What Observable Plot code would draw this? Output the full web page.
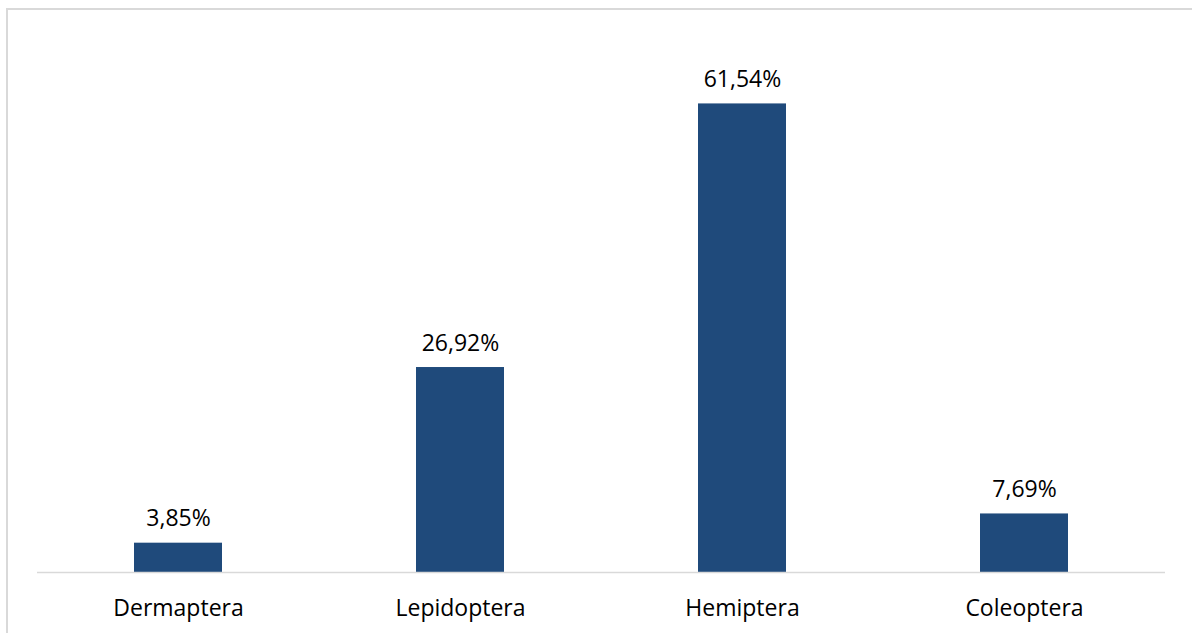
<!DOCTYPE html>
<html>
<head>
<meta charset="utf-8">
<script src="https://cdn.jsdelivr.net/npm/d3@7"></script>
<script src="https://cdn.jsdelivr.net/npm/@observablehq/plot@0.6"></script>
<style>
  html, body { margin: 0; padding: 0; background: #fff; overflow: hidden; }
  #wrap { position: relative; width: 1192px; height: 633px; }
  #frame { position: absolute; left: 6px; top: 8px; width: 1200px; height: 640px;
           border: 2px solid #d9d9d9; box-sizing: border-box; pointer-events: none; }
  #chart { position: absolute; left: 0; top: 0; }
</style>
</head>
<body>
<div id="wrap">
  <div id="chart"></div>
  <div id="frame"></div>
</div>
<script>
// Share of insect orders (%)
const orders = ["Dermaptera", "Lepidoptera", "Hemiptera", "Coleoptera"];
const shares = [3.85, 26.92, 61.54, 7.69];

const rows = orders.map((order, i) => ({order, share: shares[i]}));
const fmt = v => v.toFixed(2).replace(".", ",") + "%";
const font = "Open Sans, Lato, sans-serif";

const chart = Plot.plot({
  width: 1192,
  height: 633,
  marginLeft: 37,
  marginRight: 27,
  marginTop: 39,
  marginBottom: 61,
  style: {fontFamily: font, fontSize: "23px", color: "#000", background: "transparent"},
  x: {domain: orders, paddingInner: 0.688, paddingOuter: 0.344, label: null},
  y: {domain: [0, 70], axis: null},
  marks: [
    Plot.barY(rows, {x: "order", y: "share", fill: "#1f4a7b"}),
    Plot.ruleY([0], {stroke: "#d9d9d9", strokeWidth: 1.5}),
    Plot.text(rows, {x: "order", y: "share", text: d => fmt(d.share), dy: -17,
                     lineAnchor: "bottom", fontSize: 23, fill: "#000"}),
    Plot.axisX({tickSize: 0, tickPadding: 27, fontSize: 23, fill: "#000"})
  ]
});
document.getElementById("chart").appendChild(chart);
</script>
</body>
</html>
